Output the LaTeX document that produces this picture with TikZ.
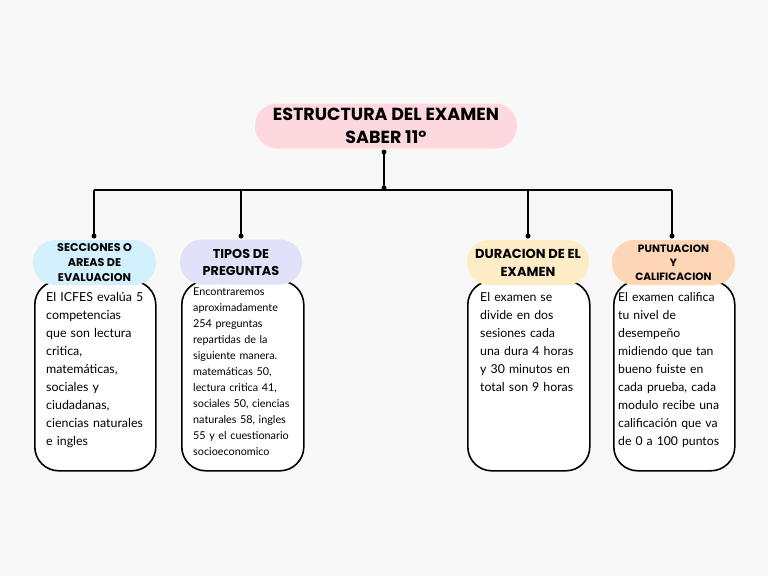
\documentclass[tikz,border=0pt]{standalone}
\usepackage{fontspec}
\setmainfont{Lato}
\newfontfamily\headfont{Poppins}
\usetikzlibrary{positioning}
\definecolor{bgcol}{HTML}{F8F8F8}
\definecolor{pinkcol}{HTML}{FDD9DF}
\definecolor{bluecol}{HTML}{D3F1FC}
\definecolor{lilaccol}{HTML}{E1E1F9}
\definecolor{creamcol}{HTML}{FDECC6}
\definecolor{peachcol}{HTML}{FDD6B5}
\tikzset{pill/.style={rounded corners=22pt,minimum height=45pt,align=center,
  font=\headfont\bfseries,inner sep=2pt}}
\tikzset{body/.style={draw=black,line width=1.6pt,fill=white,rounded corners=24pt,
  minimum width=121pt,minimum height=190pt,anchor=north west}}
\tikzset{txt/.style={anchor=north west,align=left,inner sep=0pt}}
\tikzset{dot/.style={circle,fill=black,inner sep=0pt,minimum size=5pt}}

\begin{document}
\begin{tikzpicture}[x=1pt,y=-1pt]
            \fill[bgcol] (0,0) rectangle (768,576);
            \useasboundingbox (0,0) rectangle (768,576);
            % boxes
            \node [body] (bi) at (34,280) {};
            \node [body,minimum width=122pt] (bii) at (181,280) {};
            \node [body,minimum width=122pt] (biii) at (467,280) {};
            \node [body] (biv) at (613,280) {};
            % texts
            \node [txt,text width=115pt,font=\fontsize{12.4}{18}\selectfont] (ti) at (46,292) {El ICFES evalúa 5\\competencias\\que son lectura\\critica,\\matemáticas,\\sociales y\\ciudadanas,\\ciencias naturales\\e ingles};
            \node [txt,text width=115pt,font=\fontsize{10.8}{16}\selectfont] (tii) at (193,288) {Encontraremos\\aproximadamente\\254 preguntas\\repartidas de la\\siguiente manera.\\matemáticas 50,\\lectura critica 41,\\sociales 50, ciencias\\naturales 58, ingles\\55 y el cuestionario\\socioeconomico};
            \node [txt,text width=115pt,font=\fontsize{12.3}{18}\selectfont] (tiii) at (480,292) {El examen se\\divide en dos\\sesiones cada\\una dura 4 horas\\y 30 minutos en\\total son 9 horas};
            \node [txt,text width=120pt,font=\fontsize{12.2}{18}\selectfont] (tiv) at (618,292) {El examen califica\\tu nivel de\\desempeño\\midiendo que tan\\bueno fuiste en\\cada prueba, cada\\modulo recibe una\\calificación que va\\de 0 a 100 puntos};
            % headers
            \node [pill,fill=pinkcol,minimum width=262pt,font=\headfont\bfseries\fontsize{17.5}{23}\selectfont] (main) at (386,126) {ESTRUCTURA DEL EXAMEN\\SABER 11°};
            \node [pill,fill=bluecol,minimum width=123pt,font=\headfont\bfseries\fontsize{11.2}{15}\selectfont] (hi) at (94.5,262.5) {SECCIONES O\\AREAS DE\\EVALUACION};
            \node [pill,fill=lilaccol,minimum width=122pt,font=\headfont\bfseries\fontsize{12.8}{17}\selectfont] (hii) at (241,262) {TIPOS DE\\PREGUNTAS};
            \node [pill,fill=creamcol,minimum width=122pt,font=\headfont\bfseries\fontsize{13}{18}\selectfont] (hiii) at (528,262.5) {DURACION DE EL\\EXAMEN};
            \node [pill,fill=peachcol,minimum width=123pt,font=\headfont\bfseries\fontsize{10.6}{14}\selectfont] (hiv) at (673.5,262.5) {PUNTUACION\\Y\\CALIFICACION};
            % connectors
            \coordinate (top) at (384,152);
            \coordinate (hub) at (384,188);
            \coordinate (bl) at (94,190);
            \coordinate (br) at (672,190);
            \coordinate (di) at (94,236);
            \coordinate (dii) at (241,236);
            \coordinate (diii) at (528,236);
            \coordinate (div) at (672,236);
            \draw[line width=1.6pt] (top) -- (hub);
            \draw[line width=1.6pt] (bl) -- (br);
            \draw[line width=1.6pt] (bl) -- (di);
            \draw[line width=1.6pt] (dii |- bl) -- (dii);
            \draw[line width=1.6pt] (diii |- bl) -- (diii);
            \draw[line width=1.6pt] (br) -- (div);
            \foreach \d in {top,hub,di,dii,diii,div}
                \node [dot] at (\d) {};
        \end{tikzpicture}
\end{document}
